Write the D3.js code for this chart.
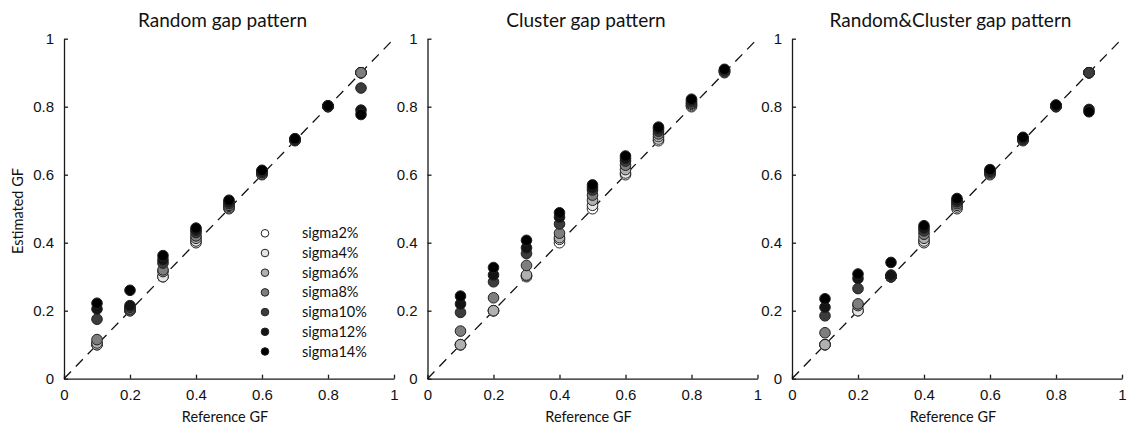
<!DOCTYPE html>
<html>
<head>
<meta charset="utf-8">
<script src="https://cdn.jsdelivr.net/npm/d3@7"></script>
<style>
  body { margin: 0; background: #fff; }
  svg { font-family: Lato, "Open Sans", sans-serif; }
  .axis path, .axis line { stroke: #1a1a1a; stroke-width: 1.3; }
  .axis text { font-size: 15px; fill: #111; }
</style>
</head>
<body>
<svg width="1130" height="428"></svg>
<script>
// reference gap fraction on the x axis
const refGF = [0.1, 0.2, 0.3, 0.4, 0.5, 0.6, 0.7, 0.8, 0.9];
const sigmaNames = ["sigma2%", "sigma4%", "sigma6%", "sigma8%", "sigma10%", "sigma12%", "sigma14%"];
const sigmaFills = ["#ffffff", "#e6e6e6", "#b0b0b0", "#7e7e7e", "#3c3c3c", "#141414", "#000000"];
const tickValues = [0, 0.2, 0.4, 0.6, 0.8, 1];

// estimated GF, one row per sigma level
const randomGap = [
  [0.100, 0.200, 0.300, 0.400, 0.500, 0.600, 0.700, 0.800, 0.900],
  [0.100, 0.200, 0.300, 0.405, 0.503, 0.602, 0.701, 0.800, 0.900],
  [0.105, 0.203, 0.315, 0.413, 0.507, 0.605, 0.702, 0.801, 0.900],
  [0.115, 0.205, 0.320, 0.420, 0.510, 0.607, 0.703, 0.801, 0.900],
  [0.175, 0.210, 0.340, 0.430, 0.515, 0.609, 0.704, 0.802, 0.855],
  [0.205, 0.215, 0.350, 0.437, 0.520, 0.611, 0.705, 0.802, 0.790],
  [0.222, 0.260, 0.362, 0.443, 0.525, 0.613, 0.706, 0.803, 0.777]
];
const clusterGap = [
  [0.100, 0.200, 0.300, 0.400, 0.500, 0.600, 0.700, 0.800, 0.900],
  [0.100, 0.200, 0.303, 0.410, 0.510, 0.605, 0.705, 0.803, 0.902],
  [0.100, 0.200, 0.305, 0.415, 0.525, 0.615, 0.712, 0.807, 0.903],
  [0.140, 0.238, 0.333, 0.428, 0.540, 0.628, 0.720, 0.810, 0.905],
  [0.195, 0.285, 0.368, 0.455, 0.555, 0.640, 0.728, 0.814, 0.907],
  [0.220, 0.305, 0.385, 0.475, 0.562, 0.648, 0.735, 0.818, 0.908],
  [0.243, 0.327, 0.407, 0.488, 0.570, 0.655, 0.740, 0.822, 0.910]
];
const mixedGap = [
  [0.100, 0.200, 0.300, 0.400, 0.500, 0.600, 0.700, 0.800, 0.900],
  [0.100, 0.200, 0.300, 0.405, 0.505, 0.603, 0.702, 0.800, 0.900],
  [0.100, 0.215, 0.300, 0.413, 0.510, 0.606, 0.704, 0.801, 0.900],
  [0.135, 0.220, 0.300, 0.425, 0.515, 0.608, 0.705, 0.802, 0.900],
  [0.185, 0.265, 0.300, 0.435, 0.520, 0.610, 0.707, 0.803, 0.900],
  [0.210, 0.295, 0.305, 0.443, 0.525, 0.612, 0.708, 0.804, 0.792],
  [0.235, 0.308, 0.342, 0.450, 0.530, 0.615, 0.710, 0.805, 0.785]
];

const panels = [
  { title: "Random gap pattern", data: randomGap, left: 64, yLabel: true, legend: true },
  { title: "Cluster gap pattern", data: clusterGap, left: 427.5 },
  { title: "Random&Cluster gap pattern", data: mixedGap, left: 792 }
];

const svg = d3.select("svg");
const plotW = 330, plotTop = 38.7, plotBottom = 378.7;

panels.forEach((p) => {
  const x = d3.scaleLinear().domain([0, 1]).range([p.left, p.left + plotW]);
  const y = d3.scaleLinear().domain([0, 1]).range([plotBottom, plotTop]);
  const g = svg.append("g");

  // axes with inward ticks
  g.append("g")
    .attr("class", "axis")
    .attr("transform", `translate(0,${plotBottom})`)
    .call(d3.axisBottom(x).tickValues(tickValues).tickSizeInner(-4).tickSizeOuter(0).tickPadding(9).tickFormat(d3.format("~g")))
    .call((a) => a.selectAll("text").attr("dy", "0.85em"));
  g.append("g")
    .attr("class", "axis")
    .attr("transform", `translate(${p.left},0)`)
    .call(d3.axisLeft(y).tickValues(tickValues).tickSizeInner(-4).tickSizeOuter(0).tickPadding(10).tickFormat(d3.format("~g")));

  // 1:1 line
  g.append("line")
    .attr("x1", x(0)).attr("y1", y(0))
    .attr("x2", x(1)).attr("y2", y(1))
    .attr("stroke", "#111")
    .attr("stroke-width", 1.3)
    .attr("stroke-dasharray", "10,7");

  // points, lighter sigma levels drawn first
  p.data.forEach((row, si) => {
    g.append("g")
      .selectAll("circle")
      .data(row)
      .enter()
      .append("circle")
      .attr("cx", (d, i) => x(refGF[i]))
      .attr("cy", (d) => y(d))
      .attr("r", 5.3)
      .attr("fill", sigmaFills[si])
      .attr("stroke", "#222")
      .attr("stroke-width", 1);
  });

  g.append("text")
    .attr("x", x(0.5) - 6.5)
    .attr("y", 26.5)
    .attr("text-anchor", "middle")
    .attr("font-size", 19)
    .attr("fill", "#111")
    .text(p.title);

  g.append("text")
    .attr("x", x(0.5) - 4)
    .attr("y", 422)
    .attr("text-anchor", "middle")
    .attr("font-size", 14.5)
    .attr("fill", "#111")
    .text("Reference GF");

  if (p.yLabel) {
    g.append("text")
      .attr("transform", `translate(23,211) rotate(-90)`)
      .attr("text-anchor", "middle")
      .attr("font-size", 14.5)
      .attr("fill", "#111")
      .text("Estimated GF");
  }

  if (p.legend) {
    const leg = g.append("g").attr("transform", "translate(265,233.3)");
    const rows = leg.selectAll("g")
      .data(sigmaNames)
      .enter()
      .append("g")
      .attr("transform", (d, i) => `translate(0,${i * 19.7})`);
    rows.append("circle")
      .attr("r", 3.8)
      .attr("fill", (d, i) => sigmaFills[i])
      .attr("stroke", "#222")
      .attr("stroke-width", 1);
    rows.append("text")
      .attr("x", 37)
      .attr("dy", "0.35em")
      .attr("font-size", 14.5)
      .attr("fill", "#111")
      .text((d) => d);
  }
});
</script>
</body>
</html>
